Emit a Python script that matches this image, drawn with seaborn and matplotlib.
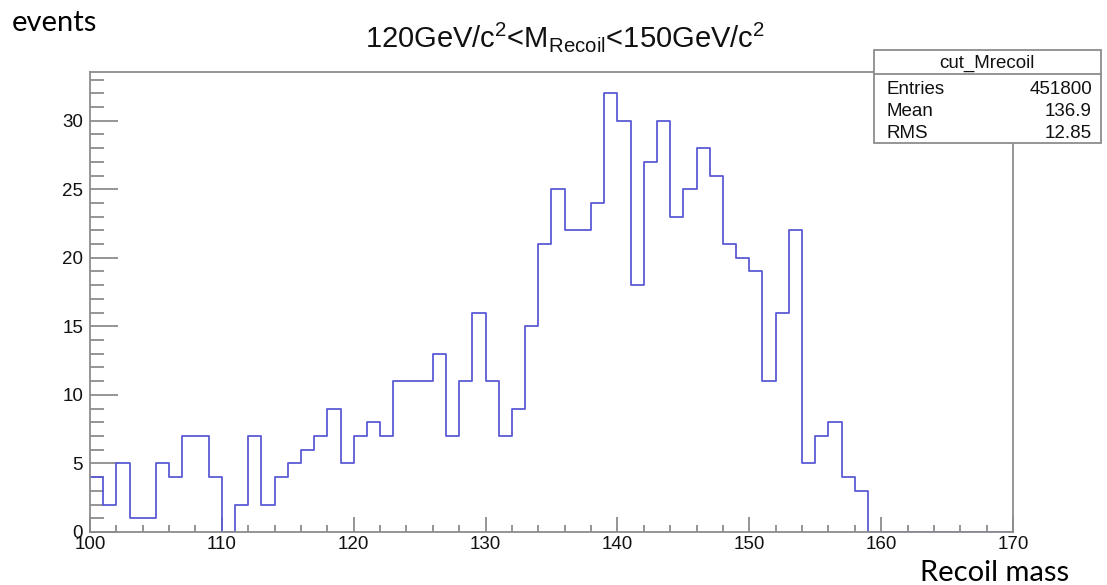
import numpy as np
import pandas as pd
import matplotlib
matplotlib.use("Agg")
import matplotlib.pyplot as plt
from matplotlib.ticker import MultipleLocator
from matplotlib.patches import Rectangle
from matplotlib.lines import Line2D
import seaborn as sns

# 1 GeV bins from 100 to 170, counts
bin_low = list(range(100, 170))
counts = [4, 2, 5, 1, 1, 5, 4, 7, 7, 4,
          0, 2, 7, 2, 4, 5, 6, 7, 9, 5,
          7, 8, 7, 11, 11, 11, 13, 7, 11, 16,
          11, 7, 9, 15, 21, 25, 22, 22, 24, 32,
          30, 18, 27, 30, 23, 25, 28, 26, 21, 20,
          19, 11, 16, 22, 5, 7, 8, 4, 3, 0,
          0, 0, 0, 0, 0, 0, 0, 0, 0, 0]

stats_name = "cut_Mrecoil"
stats_labels = ["Entries", "Mean", "RMS"]
stats_values = ["451800", "136.9", "12.85"]

sns.set_style("white")
plt.rcParams["font.family"] = ["Liberation Sans", "DejaVu Sans"]
plt.rcParams["mathtext.fontset"] = "custom"
plt.rcParams["mathtext.rm"] = "Liberation Sans"
plt.rcParams["mathtext.it"] = "Liberation Sans"
plt.rcParams["mathtext.bf"] = "Liberation Sans:bold"

W, H = 1107, 585
fig = plt.figure(figsize=(W / 100, H / 100), dpi=100)
ax = fig.add_axes([90 / W, 1 - 532 / H, 923 / W, 460 / H])

def px(x):
    return x / W

def py(y):
    return 1 - y / H

df = pd.DataFrame({"mass": np.array(bin_low) + 0.5, "n": counts})
sns.histplot(data=df, x="mass", weights="n", binwidth=1, binrange=(100, 170),
             element="step", fill=False, color="#5a5ad6", linewidth=1.3, ax=ax)

ax.set_xlim(100, 170)
ax.set_ylim(0, 33.55)
ax.set_xlabel("")
ax.set_ylabel("")

frame = "#8c8c8c"
for s in ax.spines.values():
    s.set_color(frame)
    s.set_linewidth(1.3)

ax.xaxis.set_major_locator(MultipleLocator(10))
ax.xaxis.set_minor_locator(MultipleLocator(2))
ax.yaxis.set_major_locator(MultipleLocator(5))
ax.yaxis.set_minor_locator(MultipleLocator(1))
ax.tick_params(axis="both", which="both", direction="in", color=frame,
               width=1.3, labelsize=13.5, labelcolor="#111111",
               bottom=True, left=True, top=False, right=False)
ax.tick_params(axis="y", which="major", length=20, pad=5)
ax.tick_params(axis="y", which="minor", length=10)
ax.tick_params(axis="x", which="major", length=11, pad=3)
ax.tick_params(axis="x", which="minor", length=5)

# title
fig.text(px(565), py(47), "120GeV/c$^{2}$<M$_{\\mathrm{Recoil}}$<150GeV/c$^{2}$",
         ha="center", va="baseline", fontsize=21, color="#111111")

# axis labels placed like the original slide
fig.text(px(12), py(31), "events", ha="left", va="baseline",
         fontsize=21, family=["Lato", "DejaVu Sans"], color="black")
fig.text(px(920), py(581), "Recoil mass", ha="left", va="baseline",
         fontsize=21, family=["Lato", "DejaVu Sans"], color="black")

# stats box
box = Rectangle((px(874), py(143)), px(1101) - px(874), py(50) - py(143),
                transform=fig.transFigure, facecolor="white", edgecolor=frame,
                linewidth=1.3, zorder=5)
fig.add_artist(box)
fig.add_artist(Line2D([px(874), px(1101)], [py(74), py(74)],
                      transform=fig.transFigure, color=frame, lw=1.3, zorder=6))
fig.text(px(987), py(68), stats_name, ha="center", va="baseline",
         fontsize=13.5, color="#111111", zorder=7)
for i, (lab, val) in enumerate(zip(stats_labels, stats_values)):
    yb = 94 + i * 22
    fig.text(px(887), py(yb), lab, ha="left", va="baseline",
             fontsize=13.5, color="#111111", zorder=7)
    fig.text(px(1092), py(yb), val, ha="right", va="baseline",
             fontsize=13.5, color="#111111", zorder=7)

fig.savefig("out.png", dpi=100)
